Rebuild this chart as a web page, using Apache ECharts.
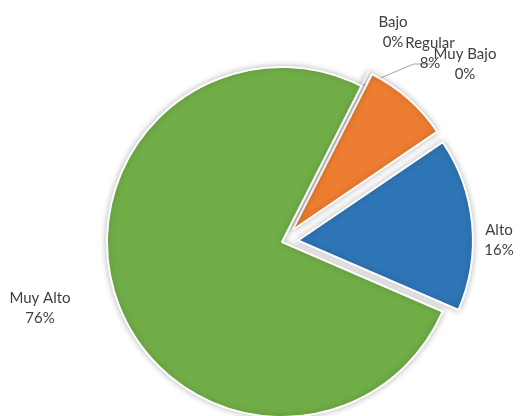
<!DOCTYPE html>
<html><head><meta charset="utf-8">
<script src="https://cdn.jsdelivr.net/npm/echarts@6/dist/echarts.min.js"></script>
<style>html,body{margin:0;padding:0;background:#fff}#c{width:532px;height:416px}</style>
</head><body><div id="c"></div>
<script>
const categories = ['Muy Bajo', 'Bajo', 'Regular', 'Alto', 'Muy Alto'];
const values = [0, 0, 8, 16, 76];
const colors = ['#A5A5A5', '#FFC000', '#ED7D31', '#2E75B6', '#70AD47'];
const exploded = [true, true, true, true, false];
const showLine = [true, false, false, false, false];
// label text-centre positions (layout only)
const labelPos = [[465, 64], [393, 32], [430, 53], [499, 240], [40, 308]];

const PIE_CENTER = [282, 242];
const PIE_R = 175;
const START = 63;

const chart = echarts.init(document.getElementById('c'), null, {renderer: 'canvas'});
chart.setOption({
  backgroundColor: '#ffffff',
  animation: false,
  series: [{
    // the exploded slices
    type: 'pie',
    center: PIE_CENTER,
    radius: PIE_R,
    startAngle: START,
    clockwise: true,
    selectedMode: 'multiple',
    selectedOffset: 16,
    data: categories.map((n, i) => ({
      name: n, value: values[i], selected: exploded[i],
      itemStyle: {color: colors[i]}
    })),
    itemStyle: {borderColor: '#ffffff', borderWidth: 2, shadowBlur: 6, shadowColor: 'rgba(0,0,0,0.25)'},
    label: {show: false},
    labelLine: {show: false},
    emphasis: {disabled: true},
    silent: true
  }, {
    // same data, transparent: carries the data labels
    type: 'pie',
    center: PIE_CENTER,
    radius: PIE_R,
    startAngle: START,
    clockwise: true,
    selectedMode: false,
    data: categories.map((n, i) => ({
      name: n, value: values[i],
      labelLine: {show: showLine[i]}
    })),
    itemStyle: {color: 'rgba(0,0,0,0)', borderWidth: 0},
    label: {
      show: true,
      formatter: p => p.name + '\n' + p.value + '%',
      fontFamily: 'Lato',
      fontSize: 15,
      lineHeight: 20,
      color: '#404040',
      align: 'center'
    },
    labelLine: {lineStyle: {color: '#A6A6A6', width: 1}, length: 10, length2: 20},
    labelLayout: p => ({x: labelPos[p.dataIndex][0], y: labelPos[p.dataIndex][1], align: 'center', verticalAlign: 'middle'}),
    emphasis: {disabled: true},
    silent: true
  }]
});
</script></body></html>
